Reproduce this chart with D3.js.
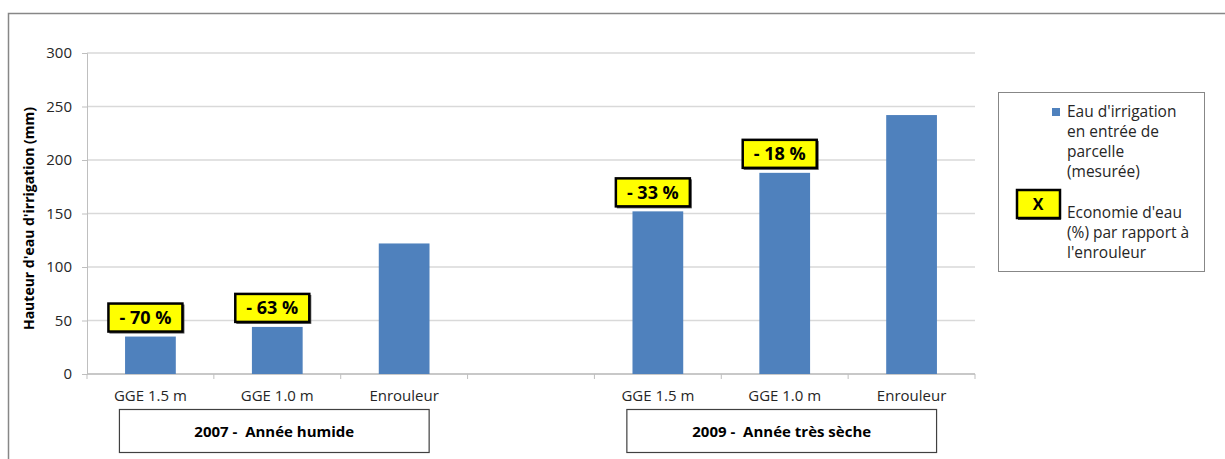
<!DOCTYPE html>
<html>
<head>
<meta charset="utf-8">
<script src="https://cdn.jsdelivr.net/npm/d3@7"></script>
<style>
  body { margin: 0; background: #fff; }
  text { font-family: "Open Sans", "Liberation Sans", sans-serif; }
</style>
</head>
<body>
<script>
// categories: 3 per year, one empty slot between the two groups
var categories = ['GGE 1.5 m', 'GGE 1.0 m', 'Enrouleur', '', 'GGE 1.5 m', 'GGE 1.0 m', 'Enrouleur'];
var slots = ['a1', 'a2', 'a3', 'gap', 'b1', 'b2', 'b3'];
var values = [35, 44, 122, null, 152, 188, 242];
var savings = ['- 70 %', '- 63 %', null, null, '- 33 %', '- 18 %', null];
var groups = ['2007 -  Année humide', '2009 -  Année très sèche'];
var groupSlots = [['a1', 'a3'], ['b1', 'b3']];
var yTicks = [0, 50, 100, 150, 200, 250, 300];

var W = 1225, H = 459;
var mLeft = 87, mRight = 975, mTop = 53, mBottom = 374;
var barColor = '#4f81bd';

var svg = d3.select('body').append('svg')
  .attr('width', W)
  .attr('height', H);

// outer frame (runs off the right and bottom of the picture)
svg.append('rect')
  .attr('x', 8.5).attr('y', 13.5)
  .attr('width', W + 20).attr('height', H + 20)
  .attr('fill', 'none')
  .attr('stroke', '#878787')
  .attr('stroke-width', 1.5);

var x = d3.scaleBand().domain(slots).range([mLeft, mRight]);
var y = d3.scaleLinear().domain([0, 300]).range([mBottom, mTop]);

// gridlines
svg.selectAll('line.grid')
  .data(yTicks)
  .enter()
  .append('line')
    .attr('class', 'grid')
    .attr('x1', mLeft).attr('x2', mRight)
    .attr('y1', d => y(d)).attr('y2', d => y(d))
    .attr('stroke', '#d9d9d9')
    .attr('stroke-width', 1.5);

// y axis
var yAxis = svg.append('g')
  .attr('transform', 'translate(' + mLeft + ',0)')
  .call(d3.axisLeft(y).tickValues(yTicks).tickSize(5).tickPadding(10));
yAxis.select('.domain').attr('stroke', '#bfbfbf');
yAxis.selectAll('.tick line').attr('stroke', '#bfbfbf');
yAxis.selectAll('.tick text')
  .attr('font-size', '15px')
  .attr('fill', '#262626')
  .style('font-family', '"Open Sans", sans-serif');

// x axis: ticks at slot boundaries
var xAxisG = svg.append('g');
xAxisG.append('line')
  .attr('x1', mLeft).attr('x2', mRight)
  .attr('y1', mBottom).attr('y2', mBottom)
  .attr('stroke', '#bfbfbf').attr('stroke-width', 1.5);
var bounds = slots.map(s => x(s)).concat([mRight]);
xAxisG.selectAll('line.xt')
  .data(bounds)
  .enter()
  .append('line')
    .attr('class', 'xt')
    .attr('x1', d => d).attr('x2', d => d)
    .attr('y1', mBottom).attr('y2', mBottom + 5)
    .attr('stroke', '#bfbfbf');
xAxisG.selectAll('text')
  .data(slots)
  .enter()
  .append('text')
    .text((d, i) => categories[i])
    .attr('x', d => x(d) + x.bandwidth() / 2)
    .attr('y', 401)
    .attr('text-anchor', 'middle')
    .attr('font-size', '15px')
    .attr('fill', '#262626');

// bars
var bw = x.bandwidth() / 2.5;
var barData = slots.map((s, i) => ({ slot: s, v: values[i], lab: savings[i] })).filter(d => d.v != null);
svg.selectAll('rect.bar')
  .data(barData)
  .enter()
  .append('rect')
    .attr('class', 'bar')
    .attr('x', d => x(d.slot) + (x.bandwidth() - bw) / 2)
    .attr('y', d => y(d.v))
    .attr('width', bw)
    .attr('height', d => y(0) - y(d.v))
    .attr('fill', barColor);

// saving labels (yellow boxes)
var lab = svg.selectAll('g.lab')
  .data(barData.filter(d => d.lab))
  .enter()
  .append('g')
    .attr('class', 'lab')
    .attr('transform', d => 'translate(' + (x(d.slot) + x.bandwidth() / 2 - 4) + ',' + (y(d.v) - 19) + ')');
lab.append('rect')
  .attr('x', -37).attr('y', -13)
  .attr('width', 75).attr('height', 29)
  .attr('fill', '#555');
lab.append('rect')
  .attr('x', -38).attr('y', -14)
  .attr('width', 74).attr('height', 28)
  .attr('fill', '#ffff00')
  .attr('stroke', '#000')
  .attr('stroke-width', 2.5);
lab.append('text')
  .text(d => d.lab)
  .attr('x', -1).attr('y', 6.5)
  .attr('text-anchor', 'middle')
  .attr('font-size', '18px')
  .attr('font-weight', 'bold')
  .attr('fill', '#000');

// group boxes
groups.forEach((g, i) => {
  var x0 = x(groupSlots[i][0]) + x.bandwidth() / 2 - 31;
  var x1 = x(groupSlots[i][1]) + x.bandwidth() / 2 + 25;
  svg.append('rect')
    .attr('x', x0).attr('y', 409.5)
    .attr('width', x1 - x0).attr('height', 43)
    .attr('fill', '#fff')
    .attr('stroke', '#404040')
    .attr('stroke-width', 1.2);
  svg.append('text')
    .text(g)
    .attr('x', (x0 + x1) / 2).attr('y', 436.5)
    .attr('text-anchor', 'middle')
    .attr('font-size', '15px')
    .attr('font-weight', 'bold')
    .style('white-space', 'pre')
    .attr('fill', '#000');
});

// y axis title
svg.append('text')
  .text("Hauteur d'eau d'irrigation (mm)")
  .attr('transform', 'translate(34,' + ((mTop + mBottom) / 2 + 5) + ') rotate(-90)')
  .attr('text-anchor', 'middle')
  .attr('font-size', '14px')
  .attr('font-weight', 'bold')
  .attr('fill', '#000');

// legend
var lg = svg.append('g');
lg.append('rect')
  .attr('x', 998.5).attr('y', 92.5)
  .attr('width', 206).attr('height', 179)
  .attr('fill', '#fff')
  .attr('stroke', '#878787');
lg.append('rect')
  .attr('x', 1052).attr('y', 108)
  .attr('width', 8).attr('height', 8)
  .attr('fill', barColor);
var legLines1 = ["Eau d'irrigation", 'en entrée de', 'parcelle', '(mesurée)'];
lg.selectAll('text.l1')
  .data(legLines1)
  .enter()
  .append('text')
    .attr('class', 'l1')
    .text(d => d)
    .attr('x', 1067)
    .attr('y', (d, i) => 117 + i * 20)
    .attr('font-size', '15.5px')
    .attr('fill', '#262626');
lg.append('rect')
  .attr('x', 1018).attr('y', 191)
  .attr('width', 43).attr('height', 29)
  .attr('fill', '#555');
lg.append('rect')
  .attr('x', 1017).attr('y', 190)
  .attr('width', 43).attr('height', 28)
  .attr('fill', '#ffff00')
  .attr('stroke', '#000')
  .attr('stroke-width', 2.5);
lg.append('text')
  .text('X')
  .attr('x', 1038).attr('y', 210)
  .attr('text-anchor', 'middle')
  .attr('font-size', '16px')
  .attr('font-weight', 'bold');
var legLines2 = ["Economie d'eau", '(%) par rapport à', "l'enrouleur"];
lg.selectAll('text.l2')
  .data(legLines2)
  .enter()
  .append('text')
    .attr('class', 'l2')
    .text(d => d)
    .attr('x', 1067)
    .attr('y', (d, i) => 218 + i * 20)
    .attr('font-size', '15.5px')
    .attr('fill', '#262626');
</script>
</body>
</html>
